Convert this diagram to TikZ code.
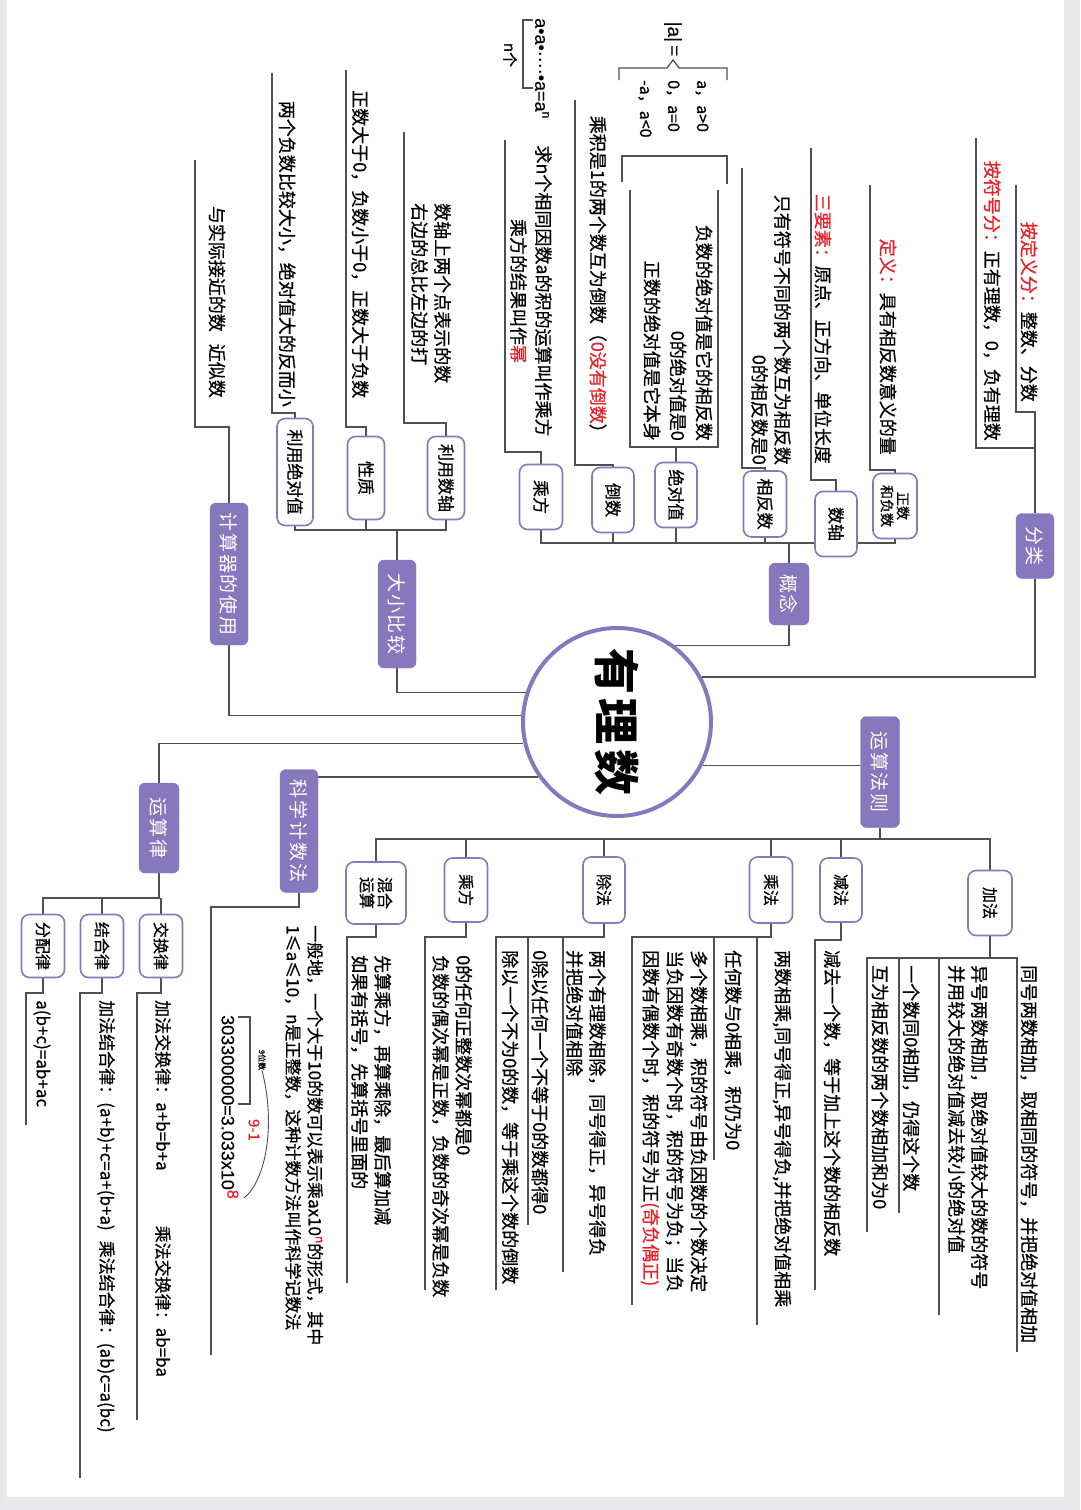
\documentclass[tikz,border=0pt]{standalone}
\usepackage{fontspec}
\setmainfont{Noto Sans CJK SC}[FakeBold=0.7]
\newfontfamily\boxfont{Noto Sans CJK SC}[LetterSpace=10]
\newfontfamily\latf{Liberation Sans}[FakeBold=0.5]
\definecolor{pur}{RGB}{134,120,189}
\definecolor{rd}{RGB}{232,32,42}
\definecolor{lc}{RGB}{80,80,80}
\definecolor{bgc}{RGB}{232,232,236}
\newcommand{\rd}[1]{\textcolor{rd}{#1}}
\newcommand{\upx}[2][black]{\raisebox{0.75ex}{\textcolor{#1}{\fontsize{12}{12}\selectfont #2}}}
\pgfdeclarelayer{bg}
\pgfdeclarelayer{lines}
\pgfsetlayers{bg,lines,main}
\tikzset{
  rot/.style={rotate=-90},
  mainbox/.style={rot, fill=pur, draw=pur, rounded corners=6pt, text=white, inner sep=0pt,
    font=\boxfont\fontsize{19}{21}\selectfont, minimum height=38pt},
  subbox/.style={rot, fill=white, draw=pur, line width=1.6pt, rounded corners=8pt, inner sep=0pt,
    font=\fontsize{17}{19}\selectfont, minimum height=42pt, minimum width=65pt, align=center},
  subsm/.style={subbox, font=\fontsize{16}{18}\selectfont},
  leaf/.style={rot, inner sep=0pt, font=\fontsize{18}{23}\selectfont},
  fml/.style={rot, inner sep=0pt, font=\fontsize{16}{18}\selectfont},
  ln/.style={draw=lc, line width=1.3pt},
}
\begin{document}
\begin{tikzpicture}[x=1pt,y=-1pt]
\useasboundingbox (0,0) rectangle (1080,1510);
\begin{pgfonlayer}{bg}
\fill[bgc] (0,0) rectangle (1080,1510);
\fill[white] (7,0) rectangle (1064,1497);
\end{pgfonlayer}

% ---------- root ----------
\node[circle, draw=pur, line width=4pt, fill=white, minimum size=188pt, inner sep=0pt] (root) at (617,722)
  {\rotatebox{-90}{\boxfont\bfseries\fontsize{46}{46}\selectfont 有理数}};

% ---------- main branches ----------
\node[mainbox, minimum width=65pt] (fl) at (1035,546) {分类};
\node[mainbox, minimum width=62pt, minimum height=40pt] (gn) at (789,594) {概念};
\node[mainbox, minimum width=111pt, minimum height=39pt] (ys) at (880,772) {运算法则};
\node[mainbox, minimum width=108pt] (dx) at (397,614) {大小比较};
\node[mainbox, minimum width=142pt] (js) at (229,574) {计算器的使用};
\node[mainbox, minimum width=123pt] (kx) at (299,831) {科学计数法};
\node[mainbox, minimum width=90pt, minimum height=40pt] (yl) at (159,828) {运算律};

% ---------- sub nodes ----------
\node[subbox, minimum height=44pt, font=\fontsize{14}{16}\selectfont] (zs) at (895,506) {正数\\和负数};
\node[subbox] (sz) at (836,524) {数轴};
\node[subbox, minimum height=43pt, minimum width=66pt] (xf) at (765,504) {相反数};
\node[subbox] (jd) at (676,495) {绝对值};
\node[subbox] (ds) at (613,500) {倒数};
\node[subbox, minimum height=43pt] (cf) at (541,497) {乘方};
\node[subbox, minimum height=37pt, minimum width=83pt] (ly) at (446,478) {利用数轴};
\node[subbox, minimum height=37pt, minimum width=83pt] (xz) at (366,478) {性质};
\node[subbox, minimum height=36pt, minimum width=107pt] (lj) at (295,472) {利用绝对值};
\node[subsm, minimum height=44pt] (jf) at (990,903) {加法};
\node[subsm, minimum width=64pt] (jian) at (841,890) {减法};
\node[subsm, minimum height=43pt, minimum width=66pt] (cheng) at (771,890) {乘法};
\node[subsm, minimum width=66pt] (chu) at (604,890) {除法};
\node[subsm, minimum height=43pt, minimum width=64pt] (cfb) at (466,890) {乘方};
\node[subsm, minimum height=60pt, minimum width=62pt] (hh) at (376,893) {混合\\运算};
\node[subsm, minimum height=43pt, minimum width=63pt] (jh) at (161,946) {交换律};
\node[subsm, minimum height=43pt, minimum width=63pt] (jhl) at (102,946) {结合律};
\node[subsm, minimum height=43pt, minimum width=63pt] (fp) at (43,946) {分配律};

% ---------- leaves: 分类 ----------
\node[leaf, anchor=east] (f1) at (1029,402) {\rd{按定义分：}整数、分数};
\node[leaf, anchor=east] (f2) at (992,441) {\rd{按符号分：}正有理数，0，负有理数};

% ---------- leaves: 概念 ----------
\node[leaf, anchor=east] (z1) at (888,455) {\rd{定义：}具有相反数意义的量};
\node[leaf, anchor=east] (s1) at (823,464) {\rd{三要素：}原点、正方向、单位长度};
\node[leaf, anchor=east, align=right] (x1) at (771,465) {只有符号不同的两个数互为相反数\\0的相反数是0};
\node[leaf, anchor=east, align=right, font=\fontsize{18}{26}\selectfont] (j1) at (678,441)
  {负数的绝对值是它的相反数\\0的绝对值是0\\正数的绝对值是它本身};
\node[fml, font=\latf\fontsize{19}{20}\selectfont] (a0) at (673,39) {|a|\,=};
\node[fml, anchor=west] (aa) at (702,80) {a，a>0};
\node[fml, anchor=west] (ab) at (673,80) {0，a=0};
\node[fml, anchor=west] (ac) at (645,80) {-a，a<0};
\node[leaf, anchor=east] (d1) at (598,442) {乘积是1的两个数互为倒数（\rd{0没有倒数}）};
\node[leaf, align=center, font=\fontsize{18}{25}\selectfont] (c1) at (531,291)
  {求n个相同因数a的积的运算叫作乘方\\乘方的结果叫作\rd{幂}};
\node[fml, anchor=west, font=\latf\fontsize{18}{20}\selectfont] (p0) at (542,18) {a•a•····•a=a\upx{n}};
\node[fml, font=\fontsize{15}{16}\selectfont] (p1) at (510,55) {n个};

% ---------- leaves: 大小比较 / 计算器 ----------
\node[leaf, anchor=west, align=left] (l1) at (431,203) {数轴上两个点表示的数\\右边的总比左边的打};
\node[leaf, anchor=west] (l2) at (360,90) {正数大于0，负数小于0，正数大于负数};
\node[leaf, anchor=east] (l3) at (287,407) {两个负数比较大小，绝对值大的反而小};
\node[leaf, anchor=east] (q1) at (217,398) {与实际接近的数\hspace{12pt}近似数};

% ---------- leaves: 运算法则 ----------
\node[leaf, anchor=west] (A1) at (1029,965) {同号两数相加，取相同的符号，并把绝对值相加};
\node[leaf, anchor=west, align=left] (A2) at (968,965) {异号两数相加，取绝对值较大的数的符号\\并用较大的绝对值减去较小的绝对值};
\node[leaf, anchor=west] (A3) at (911,965) {一个数同0相加，仍得这个数};
\node[leaf, anchor=west] (A4) at (880,965) {互为相反数的两个数相加和为0};
\node[leaf, anchor=west] (B1) at (832,950) {减去一个数，等于加上这个数的相反数};
\node[leaf, anchor=west] (M1) at (782,950) {两数相乘,同号得正,异号得负,并把绝对值相乘};
\node[leaf, anchor=west] (M2) at (733,950) {任何数与0相乘，积仍为0};
\node[leaf, anchor=west, align=left, font=\fontsize{18}{24}\selectfont] (M3) at (674,950)
  {多个数相乘，积的符号由负因数的个数决定\\当负因数有奇数个时，积的符号为负；当负\\因数有偶数个时，积的符号为正\rd{(奇负偶正)}};
\node[leaf, anchor=west, align=left] (Q1) at (586,950) {两个有理数相除，同号得正，异号得负\\并把绝对值相除};
\node[leaf, anchor=west] (Q2) at (540,950) {0除以任何一个不等于0的数都得0};
\node[leaf, anchor=west] (Q3) at (510,950) {除以一个不为0的数，等于乘这个数的倒数};
\node[leaf, anchor=west, align=left] (P1) at (452,955) {0的任何正整数次幂都是0\\负数的偶次幂是正数，负数的奇次幂是负数};
\node[leaf, anchor=west, align=left] (H1) at (371,955) {先算乘方，再算乘除，最后算加减\\如果有括号，先算括号里面的};

% ---------- leaves: 科学计数法 ----------
\node[leaf, anchor=west, align=left, font=\fontsize{17}{22}\selectfont] (K1) at (304,925)
  {一般地，一个大于10的数可以表示乘ax10\upx[rd]{n}的形式，其中\\1≤a≤10，n是正整数，这种计数方法叫作科学记数法};
\node[fml, anchor=west, font=\latf\fontsize{18}{19}\selectfont] (K2) at (230,1015) {303300000=3.033x10\raisebox{0.6ex}{\textcolor{rd}{\fontsize{16}{16}\selectfont 8}}};
\node[fml, font=\fontsize{8}{9}\selectfont] (K3) at (262,1060) {9位数};
\node[fml, font=\fontsize{15}{16}\selectfont, text=rd] (K4) at (254,1130) {9-1};

% ---------- leaves: 运算律 ----------
\node[leaf, anchor=west, font=\fontsize{17}{20}\selectfont] (Y1) at (163,1000) {加法交换律：a+b=b+a\hspace{55pt}乘法交换律：ab=ba};
\node[leaf, anchor=west, font=\fontsize{17}{20}\selectfont] (Y2) at (106,1000) {加法结合律：(a+b)+c=a+(b+a)\hspace{10pt}乘法结合律：(ab)c=a(bc)};
\node[leaf, anchor=west, font=\fontsize{17}{20}\selectfont] (Y3) at (42,1000) {a(b+c)=ab+ac};

% ---------- coordinates ----------
\coordinate (f1t) at (1016,185); \coordinate (f1b) at (1016,412);
\coordinate (f2t) at (976,138);  \coordinate (f2b) at (976,448);
\coordinate (zst) at (870,185);  \coordinate (zsb) at (870,470);
\coordinate (szt) at (811,148);  \coordinate (szb) at (811,480);
\coordinate (xft) at (742,168);  \coordinate (xfb) at (742,468);
\coordinate (jdA) at (630,190);  \coordinate (jdB) at (630,447);
\coordinate (jdC) at (718,447);  \coordinate (jdD) at (718,190);
\coordinate (dst) at (575,100);  \coordinate (dsb) at (575,465);
\coordinate (cft) at (505,140);  \coordinate (cfb0) at (505,452);
\coordinate (gnbus) at (789,543);
\coordinate (lyt) at (404,132);  \coordinate (lyb) at (404,423);
\coordinate (xzt) at (346,70);   \coordinate (xzb) at (346,427);
\coordinate (ljt) at (272,73);   \coordinate (ljb) at (272,413);
\coordinate (jst) at (195,160);  \coordinate (jsb) at (195,427);
\coordinate (dxbus) at (397,530);
\coordinate (ysbus) at (880,839);
\coordinate (a1t) at (1017,958); \coordinate (a1b) at (1017,1352);
\coordinate (a2t) at (939,958);  \coordinate (a2b) at (939,1315);
\coordinate (a3t) at (899,958);  \coordinate (a3b) at (899,1213);
\coordinate (a4t) at (867,958);  \coordinate (a4b) at (867,1232);
\coordinate (b1t) at (815,940);  \coordinate (b1b) at (815,1290);
\coordinate (m1t) at (757,937);  \coordinate (m1b) at (757,1325);
\coordinate (m2t) at (714,937);  \coordinate (m2b) at (714,1160);
\coordinate (m3t) at (632,937);  \coordinate (m3b) at (632,1305);
\coordinate (q1t) at (563,937);  \coordinate (q1b) at (563,1272);
\coordinate (q2t) at (528,937);  \coordinate (q2b) at (528,1225);
\coordinate (q3t) at (496,937);  \coordinate (q3b) at (496,1290);
\coordinate (p1t) at (425,937);  \coordinate (p1b) at (425,1290);
\coordinate (h1t) at (347,937);  \coordinate (h1b) at (347,1283);
\coordinate (k1t) at (211,907);  \coordinate (k1b) at (211,1355);
\coordinate (ylbus) at (159,898);
\coordinate (y1t) at (137,993);  \coordinate (y1b) at (137,1420);
\coordinate (y2t) at (80,993);   \coordinate (y2b) at (80,1478);
\coordinate (y3t) at (26,993);   \coordinate (y3b) at (26,1125);

\begin{pgfonlayer}{lines}
% root connectors
\draw[ln] (fl.east) |- (root.28);
\draw[ln] (gn.east) |- (root.53);
\draw[ln] (root.333) -- (root.333 -| ys.south);
\draw[ln] (dx.east) |- (root.162);
\draw[ln] (js.east) |- (root.176);
\draw[ln] (yl.west) |- (root.193);
\draw[ln] (root.215) -- (root.215 -| kx.north);
% 分类
\draw[ln] (f1t) -- (f1b) -| (fl.west);
\draw[ln] (f2t) -- (f2b) -| (fl.west);
% 概念
\draw[ln] (gn.west) -- (gnbus);
\draw[ln] (cf.east) |- (gnbus);
\draw[ln] (zs.east) |- (gnbus);
\draw[ln] (ds.east) -- (ds.east |- gnbus);
\draw[ln] (jd.east) -- (jd.east |- gnbus);
\draw[ln] (xf.east) -- (xf.east |- gnbus);
\draw[ln] (zst) -- (zsb) -| (zs.west);
\draw[ln] (szt) -- (szb) -| (sz.west);
\draw[ln] (xft) -- (xfb) -| (xf.west);
\draw[ln] (jdA) -- (jdB) -- (jdC) -- (jdD);
\draw[ln] (jd.west) -- (jd.west |- jdB);
\draw[ln] (622,182) -- (622,156) -- (727,156) -- (727,184);
\draw[ln] (619,80) -- (619,68) -- (667,68) -- (673,60) -- (679,68) -- (727,68) -- (727,80);
\draw[ln] (dst) -- (dsb) -| (ds.west);
\draw[ln] (cft) -- (cfb0) -| (cf.west);
\draw[ln] (533,20) -- (523,20) -- (523,88) -- (533,88);
% 大小比较
\draw[ln] (dx.west) -- (dxbus);
\draw[ln] (lj.east) |- (dxbus);
\draw[ln] (ly.east) |- (dxbus);
\draw[ln] (xz.east) -- (xz.east |- dxbus);
\draw[ln] (lyt) -- (lyb) -| (ly.west);
\draw[ln] (xzt) -- (xzb) -| (xz.west);
\draw[ln] (ljt) -- (ljb) -| (lj.west);
\draw[ln] (jst) -- (jsb) -| (js.west);
% 运算法则
\draw[ln] (ys.east) -- (ysbus);
\draw[ln] (hh.west) |- (ysbus);
\draw[ln] (jf.west) |- (ysbus);
\draw[ln] (jian.west) -- (jian.west |- ysbus);
\draw[ln] (cheng.west) -- (cheng.west |- ysbus);
\draw[ln] (chu.west) -- (chu.west |- ysbus);
\draw[ln] (cfb.west) -- (cfb.west |- ysbus);
\draw[ln] (jf.east) |- (a1t) -- (a1b);
\draw[ln] (jf.east) |- (a4t) -- (a4b);
\draw[ln] (a2t) -- (a2b);
\draw[ln] (a3t) -- (a3b);
\draw[ln] (jian.east) |- (b1t) -- (b1b);
\draw[ln] (cheng.east) |- (m3t) -- (m3b);
\draw[ln] (m1t) -- (m1b);
\draw[ln] (m2t) -- (m2b);
\draw[ln] (chu.east) |- (q3t) -- (q3b);
\draw[ln] (q1t) -- (q1b);
\draw[ln] (q2t) -- (q2b);
\draw[ln] (cfb.east) |- (p1t) -- (p1b);
\draw[ln] (hh.east) |- (h1t) -- (h1b);
% 科学计数法
\draw[ln] (kx.east) |- (k1t) -- (k1b);
\draw[ln] (238,1017) -- (250,1017) -- (250,1104) -- (238,1104);
\draw[ln, line width=0.9pt] (K3.east) .. controls (276,1125) and (266,1180) .. (244,1198);
% 运算律
\draw[ln] (yl.east) -- (ylbus) -| (fp.west);
\draw[ln] (jhl.west) -- (jhl.west |- ylbus);
\draw[ln] (jh.west) -- (jh.west |- ylbus);
\draw[ln] (jh.east) |- (y1t) -- (y1b);
\draw[ln] (jhl.east) |- (y2t) -- (y2b);
\draw[ln] (fp.east) |- (y3t) -- (y3b);
\end{pgfonlayer}
\end{tikzpicture}
\end{document}
